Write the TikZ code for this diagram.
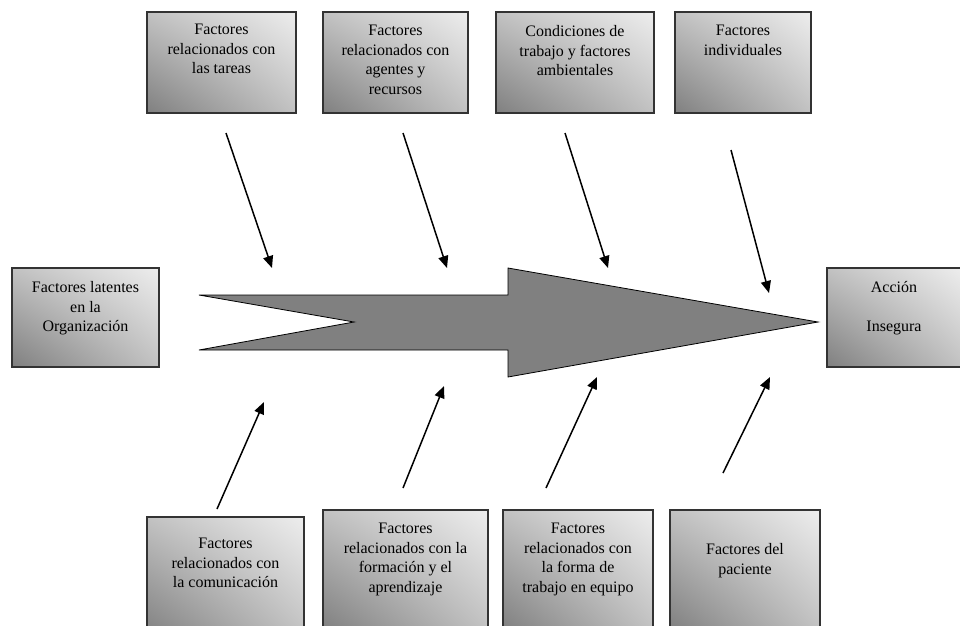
\documentclass[tikz,border=0pt]{standalone}
\usepackage{fontspec}
\setmainfont{Liberation Serif}
\usetikzlibrary{arrows.meta,shadings}
\begin{document}
\begin{tikzpicture}[x=1pt,y=-1pt,
  box/.style={draw=black!80, line width=1.4pt, inner sep=0pt,
    lower left=black!50, upper right=black!7, upper left=black!24, lower right=black!24},
  lbl/.style={align=center, font=\fontsize{16}{19.5}\selectfont, inner sep=0pt, anchor=north},
  arr/.style={-{Triangle[length=12pt,width=10pt]}, line width=1.5pt},
  bigarrow/.style={draw=black, line width=0.8pt, fill=black!50}]
\clip (0,0) rectangle (960,625);
\useasboundingbox (0,0) rectangle (960,625);
% top boxes
\node[box, minimum width=149pt, minimum height=101pt] (b1) at (221.5,62.5) {};
\node[box, minimum width=145pt, minimum height=101pt] (b2) at (395.5,62.5) {};
\node[box, minimum width=158pt, minimum height=101pt] (b3) at (575,62.5) {};
\node[box, minimum width=136pt, minimum height=101pt] (b4) at (743,62.5) {};
% side boxes
\node[box, minimum width=147pt, minimum height=99pt] (bl) at (85.5,317.5) {};
\node[box, minimum width=134pt, minimum height=99pt] (br) at (894,317.5) {};
% bottom boxes
\node[box, minimum width=157pt, minimum height=120pt] (c1) at (225.5,577) {};
\node[box, minimum width=165pt, minimum height=120pt] (c2) at (405.5,570) {};
\node[box, minimum width=150pt, minimum height=120pt] (c3) at (578,570) {};
\node[box, minimum width=150pt, minimum height=120pt] (c4) at (745,570) {};
% texts
\node[lbl] (t1) at ([yshift=-13pt]b1.north) {Factores\\relacionados con\\las tareas};
\node[lbl] (t2) at ([yshift=-14pt]b2.north) {Factores\\relacionados con\\agentes y\\recursos};
\node[lbl] (t3) at ([yshift=-14pt]b3.north) {Condiciones de\\trabajo y factores\\ambientales};
\node[lbl] (t4) at ([yshift=-14pt]b4.north) {Factores\\individuales};
\node[lbl] (tl) at ([yshift=-14pt]bl.north) {Factores latentes\\en la\\Organización};
\node[lbl] (tr) at ([yshift=-14pt]br.north) {Acción\\[19pt]Insegura};
\node[lbl] (u1) at ([yshift=-22pt]c1.north) {Factores\\relacionados con\\la comunicación};
\node[lbl] (u2) at ([yshift=-14pt]c2.north) {Factores\\relacionados con la\\formación y el\\aprendizaje};
\node[lbl] (u3) at ([yshift=-14pt]c3.north) {Factores\\relacionados con\\la forma de\\trabajo en equipo};
\node[lbl] (u4) at ([yshift=-34pt]c4.north) {Factores del\\paciente};
% big arrow
\coordinate (sl) at (199,295);
\coordinate (notch) at (354,322);
\coordinate (tip) at (818,322);
\draw[bigarrow] (sl) -- (508,295) -- (508,268) -- (tip) -- (508,377) -- (508,350) -- (199,350) -- (notch) -- cycle;
% top small arrows
\coordinate (a1s) at (226,133); \coordinate (a1e) at (272,268);
\coordinate (a2s) at (403,133); \coordinate (a2e) at (447,268);
\coordinate (a3s) at (565,133); \coordinate (a3e) at (608,268);
\coordinate (a4s) at (731,150); \coordinate (a4e) at (769,293);
\draw[arr] (a1s) -- (a1e);
\draw[arr] (a2s) -- (a2e);
\draw[arr] (a3s) -- (a3e);
\draw[arr] (a4s) -- (a4e);
% bottom small arrows
\coordinate (d1s) at (217,509); \coordinate (d1e) at (264,402);
\coordinate (d2s) at (403,488); \coordinate (d2e) at (444,386);
\coordinate (d3s) at (546,488); \coordinate (d3e) at (597,377);
\coordinate (d4s) at (723,473); \coordinate (d4e) at (770,377);
\draw[arr] (d1s) -- (d1e);
\draw[arr] (d2s) -- (d2e);
\draw[arr] (d3s) -- (d3e);
\draw[arr] (d4s) -- (d4e);
\end{tikzpicture}
\end{document}
